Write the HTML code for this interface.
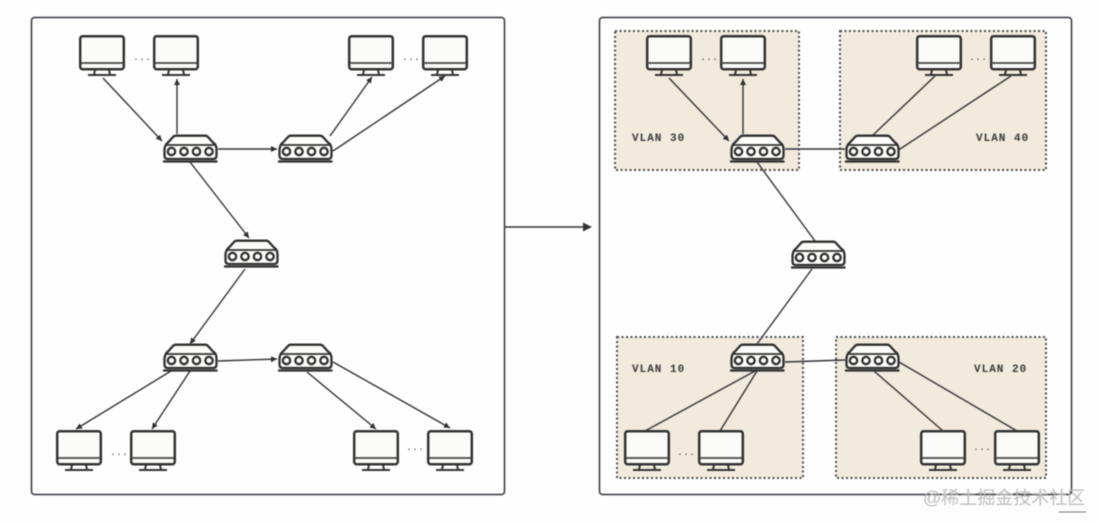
<!DOCTYPE html>
<html>
<head>
<meta charset="utf-8">
<style>
html,body{margin:0;padding:0;background:#fdfdfd;width:1100px;height:524px;overflow:hidden}
svg{display:block;filter:blur(.4px)}
.l{stroke:#333338;stroke-width:1.4;fill:none}
.a{stroke:#333338;stroke-width:1.4;fill:none;marker-end:url(#ah)}
text{font-family:"Liberation Mono",monospace;font-size:11px;letter-spacing:1px;fill:#3a3a3a;font-weight:bold}
.d{font-size:10px;font-weight:normal;letter-spacing:0;fill:#555}
</style>
</head>
<body>
<svg width="1100" height="524" viewBox="0 0 1100 524" xmlns="http://www.w3.org/2000/svg">
<defs>
<marker id="ah" markerWidth="8" markerHeight="8" refX="6" refY="3" orient="auto" markerUnits="userSpaceOnUse">
<path d="M0 0L6 3L0 6Z" fill="#2e2e34"/>
</marker>
<g id="m" transform="translate(-1,-1)">
<rect x="1.200" y="1.200" width="43.600" height="33" rx="2.500" fill="#fbfbf9" stroke="#333" stroke-width="2.500"/>
<path d="M2 28H44" stroke="#444" stroke-width="1.800"/>
<path d="M16 35L15 39.500M30 35L31 39.500" stroke="#333" stroke-width="2" fill="none"/>
<path d="M9 40H37" stroke="#333" stroke-width="2"/>
</g>
<g id="r" transform="translate(0,-.5)">
<path d="M1.500 15Q2 10 5 8L10 2.500Q11 1.200 13 1.200H42Q44 1.200 45 2.500L50 8Q53.500 10 53.500 15V21Q53.500 24.500 50 24.500H5Q1.500 24.500 1.500 21Z" fill="#fdfdfb" stroke="#2f2f2f" stroke-width="2.300"/>
<path d="M2 10.500H53" stroke="#2f2f2f" stroke-width="1.800"/>
<circle cx="8.500" cy="17" r="3.700" fill="#fff" stroke="#2f2f2f" stroke-width="2.300"/>
<circle cx="21" cy="17" r="3.700" fill="#fff" stroke="#2f2f2f" stroke-width="2.300"/>
<circle cx="33.500" cy="17" r="3.700" fill="#fff" stroke="#2f2f2f" stroke-width="2.300"/>
<circle cx="46" cy="17" r="3.700" fill="#fff" stroke="#2f2f2f" stroke-width="2.300"/>
<path d="M0 27H54.500" stroke="#2f2f2f" stroke-width="2.200"/>
</g>
</defs>

<!-- panels -->
<rect x="31.500" y="17.500" width="473" height="477" rx="3" fill="#fefefe" stroke="#33333b" stroke-width="1.500"/>
<rect x="599.500" y="17.500" width="472" height="477" rx="3" fill="#fefefe" stroke="#33333b" stroke-width="1.500"/>

<!-- VLAN areas -->
<g fill="#f1eadd" stroke="#4a4a4a" stroke-width="2" stroke-dasharray="2 2.500">
<rect x="615" y="31" width="184" height="139"/>
<rect x="840" y="31" width="206" height="139"/>
<rect x="617" y="337" width="186" height="141"/>
<rect x="836" y="337" width="210" height="141"/>
</g>

<!-- central arrow -->
<path d="M505 227H590" stroke="#33333b" stroke-width="1.500" fill="none"/>
<path d="M583 222.500L592 227L583 231.500Z" fill="#33333b"/>

<!-- left connectors -->
<path class="a" d="M103 78L162 141"/>
<path class="a" d="M177 134V79"/>
<path class="a" d="M218 149H277"/>
<path class="a" d="M330 136L372 77"/>
<path class="a" d="M333 151L445 76"/>
<path class="a" d="M190 162L249 238"/>
<path class="a" d="M245 269L190 344"/>
<path class="a" d="M218 361L277 359"/>
<path class="a" d="M171 371L76 429"/>
<path class="a" d="M190 371L152 429"/>
<path class="a" d="M307 372L376 429"/>
<path class="a" d="M333 362L450 428"/>

<!-- right connectors -->
<path class="a" d="M669 78L729 141"/>
<path class="a" d="M743 134V79"/>
<path class="l" d="M785 149H845"/>
<path class="l" d="M872 136L935 76"/>
<path class="l" d="M897 151L1011 76"/>
<path class="l" d="M757 162L815 241"/>
<path class="l" d="M812 269L757 344"/>
<path class="l" d="M785 362L845 360"/>
<path class="l" d="M755 371L645 431"/>
<path class="l" d="M757 371L720 431"/>
<path class="l" d="M874 371L943 431"/>
<path class="l" d="M899 362L1017 431"/>

<!-- left monitors -->
<use href="#m" x="80" y="36"/>
<use href="#m" x="154" y="36"/>
<use href="#m" x="349" y="36"/>
<use href="#m" x="423" y="36"/>
<use href="#m" x="57" y="431"/>
<use href="#m" x="131" y="431"/>
<use href="#m" x="354" y="431"/>
<use href="#m" x="428" y="431"/>

<!-- right monitors -->
<use href="#m" x="647" y="36"/>
<use href="#m" x="721" y="36"/>
<use href="#m" x="917" y="36"/>
<use href="#m" x="991" y="36"/>
<use href="#m" x="625" y="431"/>
<use href="#m" x="699" y="431"/>
<use href="#m" x="921" y="431"/>
<use href="#m" x="995" y="431"/>

<!-- routers -->
<use href="#r" x="163" y="135"/>
<use href="#r" x="278" y="135"/>
<use href="#r" x="224" y="240"/>
<use href="#r" x="163" y="344"/>
<use href="#r" x="278" y="344"/>
<use href="#r" x="730" y="135"/>
<use href="#r" x="845" y="135"/>
<use href="#r" x="791" y="241"/>
<use href="#r" x="730" y="344"/>
<use href="#r" x="845" y="344"/>

<!-- ellipses -->
<text class="d" x="133" y="60">...</text>
<text class="d" x="402" y="60">...</text>
<text class="d" x="110" y="455">...</text>
<text class="d" x="406" y="450">...</text>
<text class="d" x="700" y="60">...</text>
<text class="d" x="969" y="60">...</text>
<text class="d" x="677" y="455">...</text>
<text class="d" x="973" y="450">...</text>

<!-- VLAN labels -->
<text x="632" y="141">VLAN 30</text>
<text x="976" y="141">VLAN 40</text>
<text x="632" y="372">VLAN 10</text>
<text x="974" y="372">VLAN 20</text>

<!-- watermark -->
<text x="923" y="504" style="font-family:'Liberation Sans','Noto Sans CJK SC',sans-serif;font-size:18px;letter-spacing:0;font-weight:normal;fill:#bdbdbd">@稀土掘金技术社区</text>
<path d="M1059 512H1086" stroke="#777" stroke-width="1"/>
</svg>
</body>
</html>
